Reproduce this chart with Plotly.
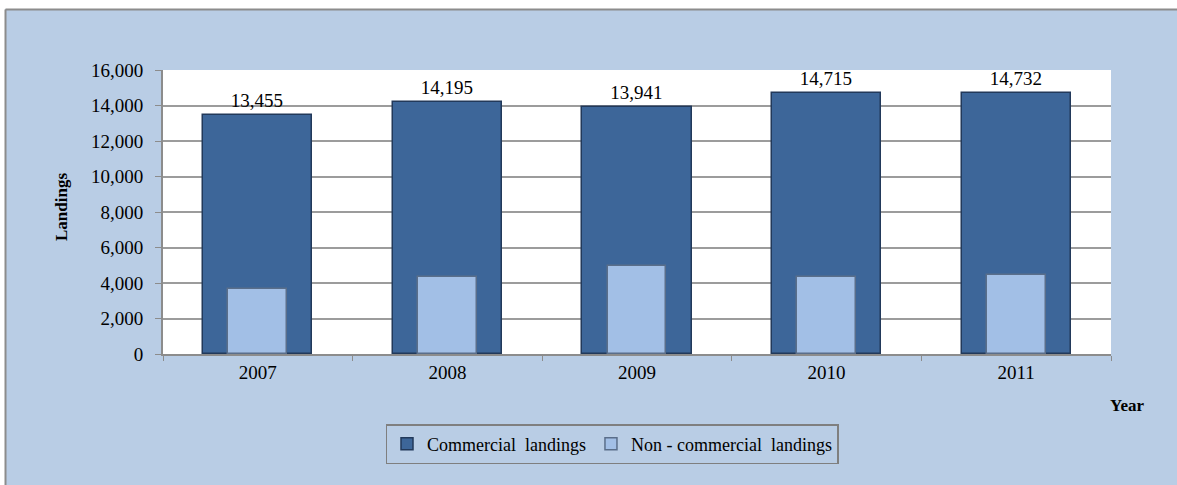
import plotly.graph_objects as go

# Landings by year
years = ["2007", "2008", "2009", "2010", "2011"]
commercial = [13455, 14195, 13941, 14715, 14732]
non_commercial = [3650, 4350, 4950, 4350, 4450]
y_ticks = [0, 2000, 4000, 6000, 8000, 10000, 12000, 14000, 16000]

W, H = 1177, 485
ML, MR, MT, MB = 163, 66, 70, 131
PW, PH = W - ML - MR, H - MT - MB

def px_x(px):
    return (px - ML) / PW

def px_y(py):
    return (H - MB - py) / PH

SERIF = "Liberation Serif"
BG = "#B9CDE5"
GRID = "#9C9C9C"

fig = go.Figure()
fig.add_trace(go.Bar(
    x=years, y=commercial, name="Commercial  landings",
    width=0.575,
    marker=dict(color="#3D6699", line=dict(color="#22395A", width=1.5)),
    text=[f"{v:,}" for v in commercial], textposition="outside",
    textfont=dict(family=SERIF, size=19, color="#000000"),
    cliponaxis=False,
))
fig.add_trace(go.Bar(
    x=years, y=non_commercial, name="Non - commercial  landings",
    width=0.31,
    marker=dict(color="#A2BFE6", line=dict(color="#5A6E8A", width=1.5)),
))

# frame: white margin strip at top/left with grey border edge
shapes = [
    dict(type="rect", xref="paper", yref="paper",
         x0=px_x(-5), x1=px_x(W + 5), y0=px_y(9), y1=px_y(-5),
         fillcolor="#FFFFFF", line=dict(width=0), layer="above"),
    dict(type="rect", xref="paper", yref="paper",
         x0=px_x(-5), x1=px_x(5), y0=px_y(H + 5), y1=px_y(-5),
         fillcolor="#FFFFFF", line=dict(width=0), layer="above"),
    dict(type="line", xref="paper", yref="paper",
         x0=px_x(5.5), x1=px_x(W + 5), y0=px_y(9.5), y1=px_y(9.5),
         line=dict(color="#8C8C8C", width=2), layer="above"),
    dict(type="line", xref="paper", yref="paper",
         x0=px_x(5.5), x1=px_x(5.5), y0=px_y(9.5), y1=px_y(H + 5),
         line=dict(color="#8C8C8C", width=2), layer="above"),
]

annotations = [
    dict(text="<b>Landings</b>", xref="paper", yref="paper",
         x=px_x(61), y=px_y(207), xanchor="center", yanchor="middle",
         textangle=-90, showarrow=False,
         font=dict(family=SERIF, size=17, color="#000000")),
    dict(text="<b>Year</b>", xref="paper", yref="paper",
         x=px_x(1127), y=px_y(405), xanchor="center", yanchor="middle",
         showarrow=False,
         font=dict(family=SERIF, size=17, color="#000000")),
]

fig.update_layout(
    width=W, height=H,
    margin=dict(l=ML, r=MR, t=MT, b=MB),
    paper_bgcolor=BG, plot_bgcolor="#FFFFFF",
    barmode="overlay", bargap=0,
    shapes=shapes, annotations=annotations,
    showlegend=True,
    legend=dict(
        orientation="h", x=px_x(612), xanchor="center",
        y=px_y(424), yanchor="top",
        bgcolor=BG, bordercolor="#7F7F7F", borderwidth=1.5,
        font=dict(family=SERIF, size=18, color="#000000"),
        itemwidth=30,
    ),
    font=dict(family=SERIF, size=18, color="#000000"),
)
fig.update_xaxes(
    type="category", tickson="boundaries", ticks="outside", ticklen=5,
    tickcolor="#8C8C8C", showline=True, linecolor="#8C8C8C", linewidth=2,
    showgrid=False, tickfont=dict(family=SERIF, size=19),
)
fig.update_yaxes(
    range=[0, 16000], tickvals=y_ticks, tickformat=",d",
    ticks="outside", ticklen=6, tickcolor="#8C8C8C",
    showline=True, linecolor="#8C8C8C", linewidth=2,
    showgrid=True, gridcolor=GRID, gridwidth=1.5, zeroline=False,
    tickfont=dict(family=SERIF, size=19), ticklabelstandoff=8,
)

fig.write_html("out.html")
